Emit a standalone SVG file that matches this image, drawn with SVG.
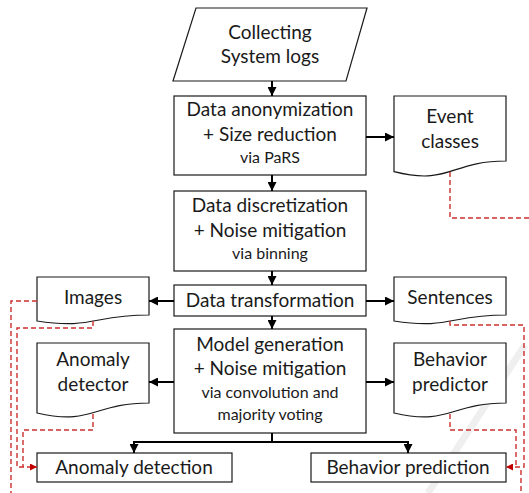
<svg xmlns="http://www.w3.org/2000/svg" width="529" height="493" viewBox="0 0 529 493">
  <style>
    .box { fill: #fff; stroke: #1a1a1a; stroke-width: 1.2; }
    .t { font-family: Lato, "Liberation Sans", sans-serif; font-size: 19px; fill: #1a1a1a; text-anchor: middle; }
    .s { font-size: 16px; }
    .flow { fill: none; stroke: #000; stroke-width: 2; }
    .ref { fill: none; stroke: #cc2e2e; stroke-width: 1.4; stroke-dasharray: 5 3; }
  </style>
  <defs>
    <marker id="ah" viewBox="0 0 10 10" refX="10" refY="5" markerWidth="4.5" markerHeight="4.5" orient="auto" markerUnits="strokeWidth">
      <path d="M0,0 L10,5 L0,10 Z" fill="#000"/>
    </marker>
    <marker id="ahr" viewBox="0 0 10 10" refX="10" refY="5" markerWidth="5" markerHeight="5" orient="auto" markerUnits="strokeWidth">
      <path d="M0,0 L10,5 L0,10 Z" fill="#c00000"/>
    </marker>
  </defs>

  <rect width="529" height="493" fill="#fff"/>
  <!-- faint diagonal band in the background -->
  <line x1="525" y1="345" x2="428" y2="493" stroke="#efefef" stroke-width="7"/>

  <!-- process steps -->
  <g id="collect">
    <polygon class="box" points="196,8 367,8 346,81 173,81"/>
    <text class="t" x="270" y="39">Collecting</text>
    <text class="t" x="270" y="63">System logs</text>
  </g>
  <g id="anonymize">
    <rect class="box" x="174" y="96" width="192" height="79"/>
    <text class="t" x="270" y="116">Data anonymization</text>
    <text class="t" x="270" y="141">+ Size reduction</text>
    <text class="t s" x="270" y="163">via PaRS</text>
  </g>
  <g id="discretize">
    <rect class="box" x="174" y="191" width="192" height="80"/>
    <text class="t" x="270" y="212">Data discretization</text>
    <text class="t" x="270" y="237">+ Noise mitigation</text>
    <text class="t s" x="270" y="259">via binning</text>
  </g>
  <g id="transform">
    <rect class="box" x="174" y="285" width="192" height="31"/>
    <text class="t" x="270" y="307">Data transformation</text>
  </g>
  <g id="model">
    <rect class="box" x="174" y="329" width="192" height="104"/>
    <text class="t" x="270" y="351">Model generation</text>
    <text class="t" x="270" y="375">+ Noise mitigation</text>
    <text class="t s" x="270" y="398">via convolution and</text>
    <text class="t s" x="270" y="420">majority voting</text>
  </g>

  <!-- documents -->
  <g id="event-classes">
    <path class="box" d="M394,96 H506 V161 C450,161 450,185.7 394,171.7 Z"/>
    <text class="t" x="450" y="123">Event</text>
    <text class="t" x="450" y="148">classes</text>
  </g>
  <g id="images">
    <path class="box" d="M37,277 H149 V315 C93,315 93,329.5 37,321 Z"/>
    <text class="t" x="93" y="304">Images</text>
  </g>
  <g id="sentences">
    <path class="box" d="M394,277 H506 V315 C450,315 450,329.5 394,321 Z"/>
    <text class="t" x="450" y="304">Sentences</text>
  </g>
  <g id="anomaly-detector">
    <path class="box" d="M37,343 H149 V403 C93,403 93,425.8 37,413 Z"/>
    <text class="t" x="93" y="366">Anomaly</text>
    <text class="t" x="93" y="391">detector</text>
  </g>
  <g id="behavior-predictor">
    <path class="box" d="M394,343 H506 V403 C450,403 450,425.8 394,413 Z"/>
    <text class="t" x="450" y="366">Behavior</text>
    <text class="t" x="450" y="391">predictor</text>
  </g>

  <!-- outcomes -->
  <g id="anomaly-detection">
    <rect class="box" x="37" y="453" width="195" height="29"/>
    <text class="t" x="134" y="474">Anomaly detection</text>
  </g>
  <g id="behavior-prediction">
    <rect class="box" x="311" y="453" width="195" height="29"/>
    <text class="t" x="408" y="474">Behavior prediction</text>
  </g>

  <!-- connectors -->
  <g id="connectors">
    <line class="flow" x1="272" y1="81" x2="272" y2="96" marker-end="url(#ah)"/>
    <line class="flow" x1="272" y1="175" x2="272" y2="191" marker-end="url(#ah)"/>
    <line class="flow" x1="272" y1="271" x2="272" y2="285" marker-end="url(#ah)"/>
    <line class="flow" x1="272" y1="316" x2="272" y2="329" marker-end="url(#ah)"/>
    <line class="flow" x1="366" y1="137" x2="394" y2="137" marker-end="url(#ah)"/>
    <line class="flow" x1="174" y1="301" x2="149" y2="301" marker-end="url(#ah)"/>
    <line class="flow" x1="366" y1="301" x2="394" y2="301" marker-end="url(#ah)"/>
    <line class="flow" x1="174" y1="382" x2="149" y2="382" marker-end="url(#ah)"/>
    <line class="flow" x1="366" y1="382" x2="394" y2="382" marker-end="url(#ah)"/>
    <!-- fork to the two outcomes -->
    <polyline class="flow" points="272,433 272,442" stroke-width="2.5"/>
    <line class="flow" x1="133" y1="442" x2="409" y2="442" stroke-width="2.5"/>
    <line class="flow" x1="134" y1="441" x2="134" y2="453" marker-end="url(#ah)"/>
    <line class="flow" x1="408" y1="441" x2="408" y2="453" marker-end="url(#ah)"/>

    <!-- dashed data references -->
    <polyline class="ref" points="450,172 450,218 529,218"/>
    <polyline class="ref" points="37,301 11,301 11,493"/>
    <polyline class="ref" points="93,321 93,328 17,328 17,467 37,467" marker-end="url(#ahr)"/>
    <polyline class="ref" points="93,414 93,430 23,430 23,467"/>
    <polyline class="ref" points="450,321 450,325 524,325 524,467 506,467" marker-end="url(#ahr)"/>
    <polyline class="ref" points="450,414 450,430 516,430 516,467"/>
    <polyline class="ref" points="521,470 521,493"/>
  </g>
</svg>
